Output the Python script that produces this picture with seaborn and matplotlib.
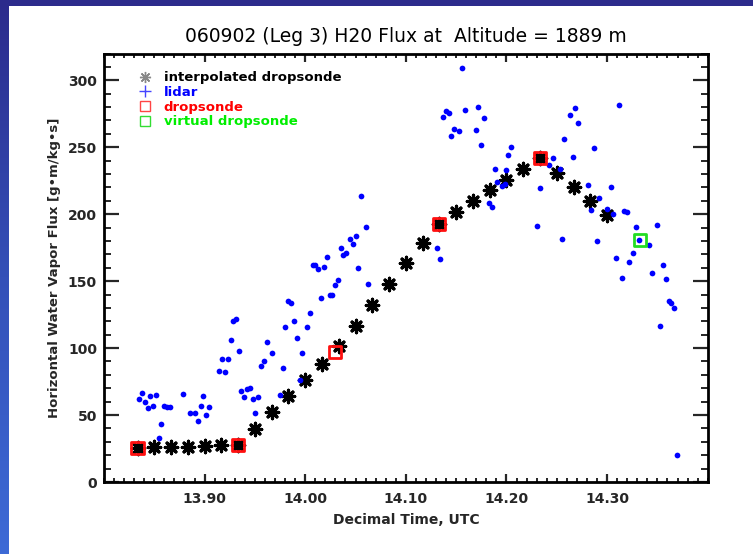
import numpy as np
import pandas as pd
import matplotlib
matplotlib.use("Agg")
import matplotlib.pyplot as plt
from matplotlib.colors import LinearSegmentedColormap
from matplotlib.lines import Line2D
from matplotlib.ticker import MultipleLocator, FormatStrFormatter
import seaborn as sns

# ---------------- data ----------------
interp_time = [13.8333, 13.8500, 13.8667, 13.8833, 13.9000, 13.9167, 13.9333,
               13.9500, 13.9667, 13.9833, 14.0000, 14.0167, 14.0333, 14.0500,
               14.0667, 14.0833, 14.1000, 14.1167, 14.1333, 14.1500, 14.1667,
               14.1833, 14.2000, 14.2167, 14.2333, 14.2500, 14.2667, 14.2833,
               14.3000]
interp_flux = [25.5, 26.0, 26.0, 26.5, 26.7, 27.3, 27.8,
               39.7, 52.1, 64.1, 75.8, 88.3, 101.2, 116.4,
               132.3, 147.5, 163.4, 178.6, 193.0, 201.5, 209.5,
               217.7, 225.9, 233.4, 241.6, 231.0, 220.2, 209.7,
               199.3]

lidar_time = [13.835, 13.838, 13.841, 13.844, 13.846, 13.849, 13.852, 13.857, 13.855,
              13.860, 13.863, 13.866, 13.879, 13.885, 13.890, 13.893, 13.896, 13.898,
              13.901, 13.904, 13.914, 13.920, 13.917, 13.923, 13.926, 13.934, 13.928,
              13.931, 13.936, 13.939, 13.942, 13.945, 13.948, 13.953, 13.950, 13.956,
              13.959, 13.962, 13.967, 13.975, 13.978, 13.980, 13.983, 13.986, 13.989,
              13.992, 13.995, 13.997, 14.002, 14.005, 14.008, 14.010, 14.013, 14.016,
              14.019, 14.022, 14.025, 14.027, 14.030, 14.033, 14.036, 14.038, 14.041,
              14.044, 14.047, 14.050, 14.052, 14.062, 14.055, 14.060,
              14.131, 14.134, 14.137, 14.140, 14.143, 14.145, 14.148, 14.153, 14.156,
              14.159, 14.170, 14.172, 14.175, 14.178, 14.183, 14.186, 14.189, 14.191,
              14.196, 14.199, 14.200, 14.202, 14.205, 14.230, 14.233, 14.242, 14.246,
              14.253, 14.255, 14.257, 14.263, 14.266, 14.268, 14.271, 14.281, 14.284,
              14.287, 14.290, 14.292, 14.300, 14.304, 14.306, 14.309, 14.312, 14.315,
              14.317, 14.320, 14.322, 14.326, 14.329, 14.332, 14.342, 14.345, 14.350,
              14.353, 14.356, 14.359, 14.362, 14.364, 14.367, 14.369]
lidar_flux = [62.1, 66.3, 60.1, 55.1, 64.4, 57.1, 64.6, 43.5, 33.0,
              56.6, 55.9, 55.9, 65.6, 51.2, 51.2, 45.9, 56.6, 64.1,
              50.2, 55.9, 83.0, 82.3, 91.5, 91.5, 105.9, 97.5, 119.9,
              121.4, 67.8, 63.3, 69.8, 70.4, 61.8, 63.6, 51.4, 87.0,
              90.2, 104.4, 96.5, 65.3, 85.3, 115.4, 135.0, 133.8, 119.9,
              107.9, 75.8, 96.0, 115.9, 126.1, 162.2, 162.2, 158.9, 137.3,
              160.9, 167.9, 139.3, 140.0, 147.3, 150.5, 174.6, 169.2, 171.2,
              181.6, 177.4, 183.9, 160.0, 147.5, 213.7, 190.3,
              174.6, 166.9, 272.4, 277.4, 275.4, 258.3, 263.5, 262.0, 309.0,
              278.0, 262.7, 280.2, 251.8, 271.5, 208.5, 205.0, 233.6, 224.4,
              220.9, 222.7, 233.2, 244.4, 250.0, 191.0, 219.4, 236.9, 241.6,
              233.9, 181.6, 256.3, 274.0, 242.6, 279.2, 268.3, 222.0, 203.3,
              249.6, 179.8, 212.0, 204.0, 220.2, 199.8, 167.4, 281.2, 152.2,
              202.2, 201.3, 164.5, 171.2, 190.8, 180.4, 176.9, 156.0, 191.8,
              116.4, 161.7, 151.5, 135.3, 134.0, 130.3, 20.3]

sonde_time = [13.8333, 13.9333, 14.0300, 14.1333, 14.2333]
sonde_flux = [25.5, 27.8, 97.2, 193.0, 241.6]

virtual_time = [14.3325]
virtual_flux = [180.4]

legend_labels = ["interpolated dropsonde", "lidar", "dropsonde", "virtual dropsonde"]
title_text = "060902 (Leg 3) H20 Flux at  Altitude = 1889 m"
xlabel_text = "Decimal Time, UTC"
ylabel_text = "Horizontal Water Vapor Flux [g\u2022m/kg\u2022s]"

interp_df = pd.DataFrame({"time": interp_time, "flux": interp_flux})
lidar_df = pd.DataFrame({"time": lidar_time, "flux": lidar_flux})
sonde_df = pd.DataFrame({"time": sonde_time, "flux": sonde_flux})
virtual_df = pd.DataFrame({"time": virtual_time, "flux": virtual_flux})

# ---------------- figure ----------------
sns.set_style("white")
plt.rcParams["font.family"] = ["DejaVu Sans"]

W, H = 753, 554
fig = plt.figure(figsize=(W / 100, H / 100), dpi=100)
fig.patch.set_facecolor("white")

# blue frame on left/top
bg = fig.add_axes([0, 0, 1, 1], zorder=-10)
bg.set_xlim(0, W)
bg.set_ylim(H, 0)
bg.axis("off")
cmap = LinearSegmentedColormap.from_list("bl", ["#2c2b8c", "#3450b8", "#3d6ad6"])
grad = np.linspace(0, 1, 256).reshape(-1, 1)
bg.imshow(grad, cmap=cmap, extent=[0, 8.5, H, 0], aspect="auto")
bg.add_patch(plt.Rectangle((0, 0), W, 5.5, color="#2c2b8c", lw=0))

ax = fig.add_axes([104 / W, 1 - 482 / H, (707.7 - 104) / W, (482 - 53.5) / H])
ax.set_facecolor("white")

AST = (8, 2, 0)
sns.scatterplot(data=interp_df, x="time", y="flux", ax=ax, marker=AST, s=80,
                color="black", linewidth=2.3, edgecolor="black", zorder=3, legend=False)
sns.scatterplot(data=lidar_df, x="time", y="flux", ax=ax, marker="o", s=17,
                color="#0000ff", linewidth=0, zorder=4, legend=False)
sns.scatterplot(data=sonde_df, x="time", y="flux", ax=ax, marker="s", s=75,
                facecolor="none", edgecolor="#ff1010", linewidth=2.0, zorder=5, legend=False)
sns.scatterplot(data=virtual_df, x="time", y="flux", ax=ax, marker="s", s=75,
                facecolor="none", edgecolor="#22dd22", linewidth=2.0, zorder=5, legend=False)

ax.set_xlim(13.80, 14.40)
ax.set_ylim(0, 320)
ax.xaxis.set_major_locator(MultipleLocator(0.1))
ax.xaxis.set_minor_locator(MultipleLocator(0.01))
ax.yaxis.set_major_locator(MultipleLocator(50))
ax.yaxis.set_minor_locator(MultipleLocator(10))
ax.xaxis.set_major_formatter(FormatStrFormatter("%.2f"))
ax.set_xticks([13.9, 14.0, 14.1, 14.2, 14.3])

for s in ax.spines.values():
    s.set_visible(True)
    s.set_linewidth(2.0)
    s.set_color("black")

ax.tick_params(axis="x", which="major", direction="in", length=6, width=1.6,
               top=True, bottom=True, labelsize=10, pad=7)
ax.tick_params(axis="x", which="minor", direction="in", length=3, width=1.4,
               top=True, bottom=True)
ax.tick_params(axis="y", which="major", direction="in", length=11, width=1.6,
               left=True, right=True, labelsize=10, pad=5)
ax.tick_params(axis="y", which="minor", direction="in", length=5, width=1.4,
               left=True, right=True)
for lab in ax.get_xticklabels() + ax.get_yticklabels():
    lab.set_fontweight("bold")

ax.set_title(title_text, fontsize=13.5, pad=8, color="black")
ax.set_xlabel(xlabel_text, fontsize=10, fontweight="bold")
ax.set_ylabel(ylabel_text, fontsize=9.5, fontweight="bold")
ax.xaxis.set_label_coords(0.5, -0.072)
ax.yaxis.set_label_coords(-0.072, 0.5)

handles = [
    Line2D([], [], ls="none", marker=AST, ms=8, mew=1.0, color="#888888"),
    Line2D([], [], ls="none", marker="+", ms=8, mew=1.0, color="#4444ff"),
    Line2D([], [], ls="none", marker="s", ms=7, mew=1.0, mfc="none", mec="#ff4444"),
    Line2D([], [], ls="none", marker="s", ms=7, mew=1.0, mfc="none", mec="#33dd33"),
]
leg = ax.legend(handles, legend_labels, loc="upper left", bbox_to_anchor=(0.042, 0.98),
                frameon=False, handlelength=1.0, handletextpad=0.9,
                labelspacing=0.13, borderpad=0.2,
                labelcolor=["black", "#0000ff", "#ff0000", "#00ee00"],
                prop={"weight": "bold", "size": 9.5})

fig.savefig("out.png", dpi=100)
